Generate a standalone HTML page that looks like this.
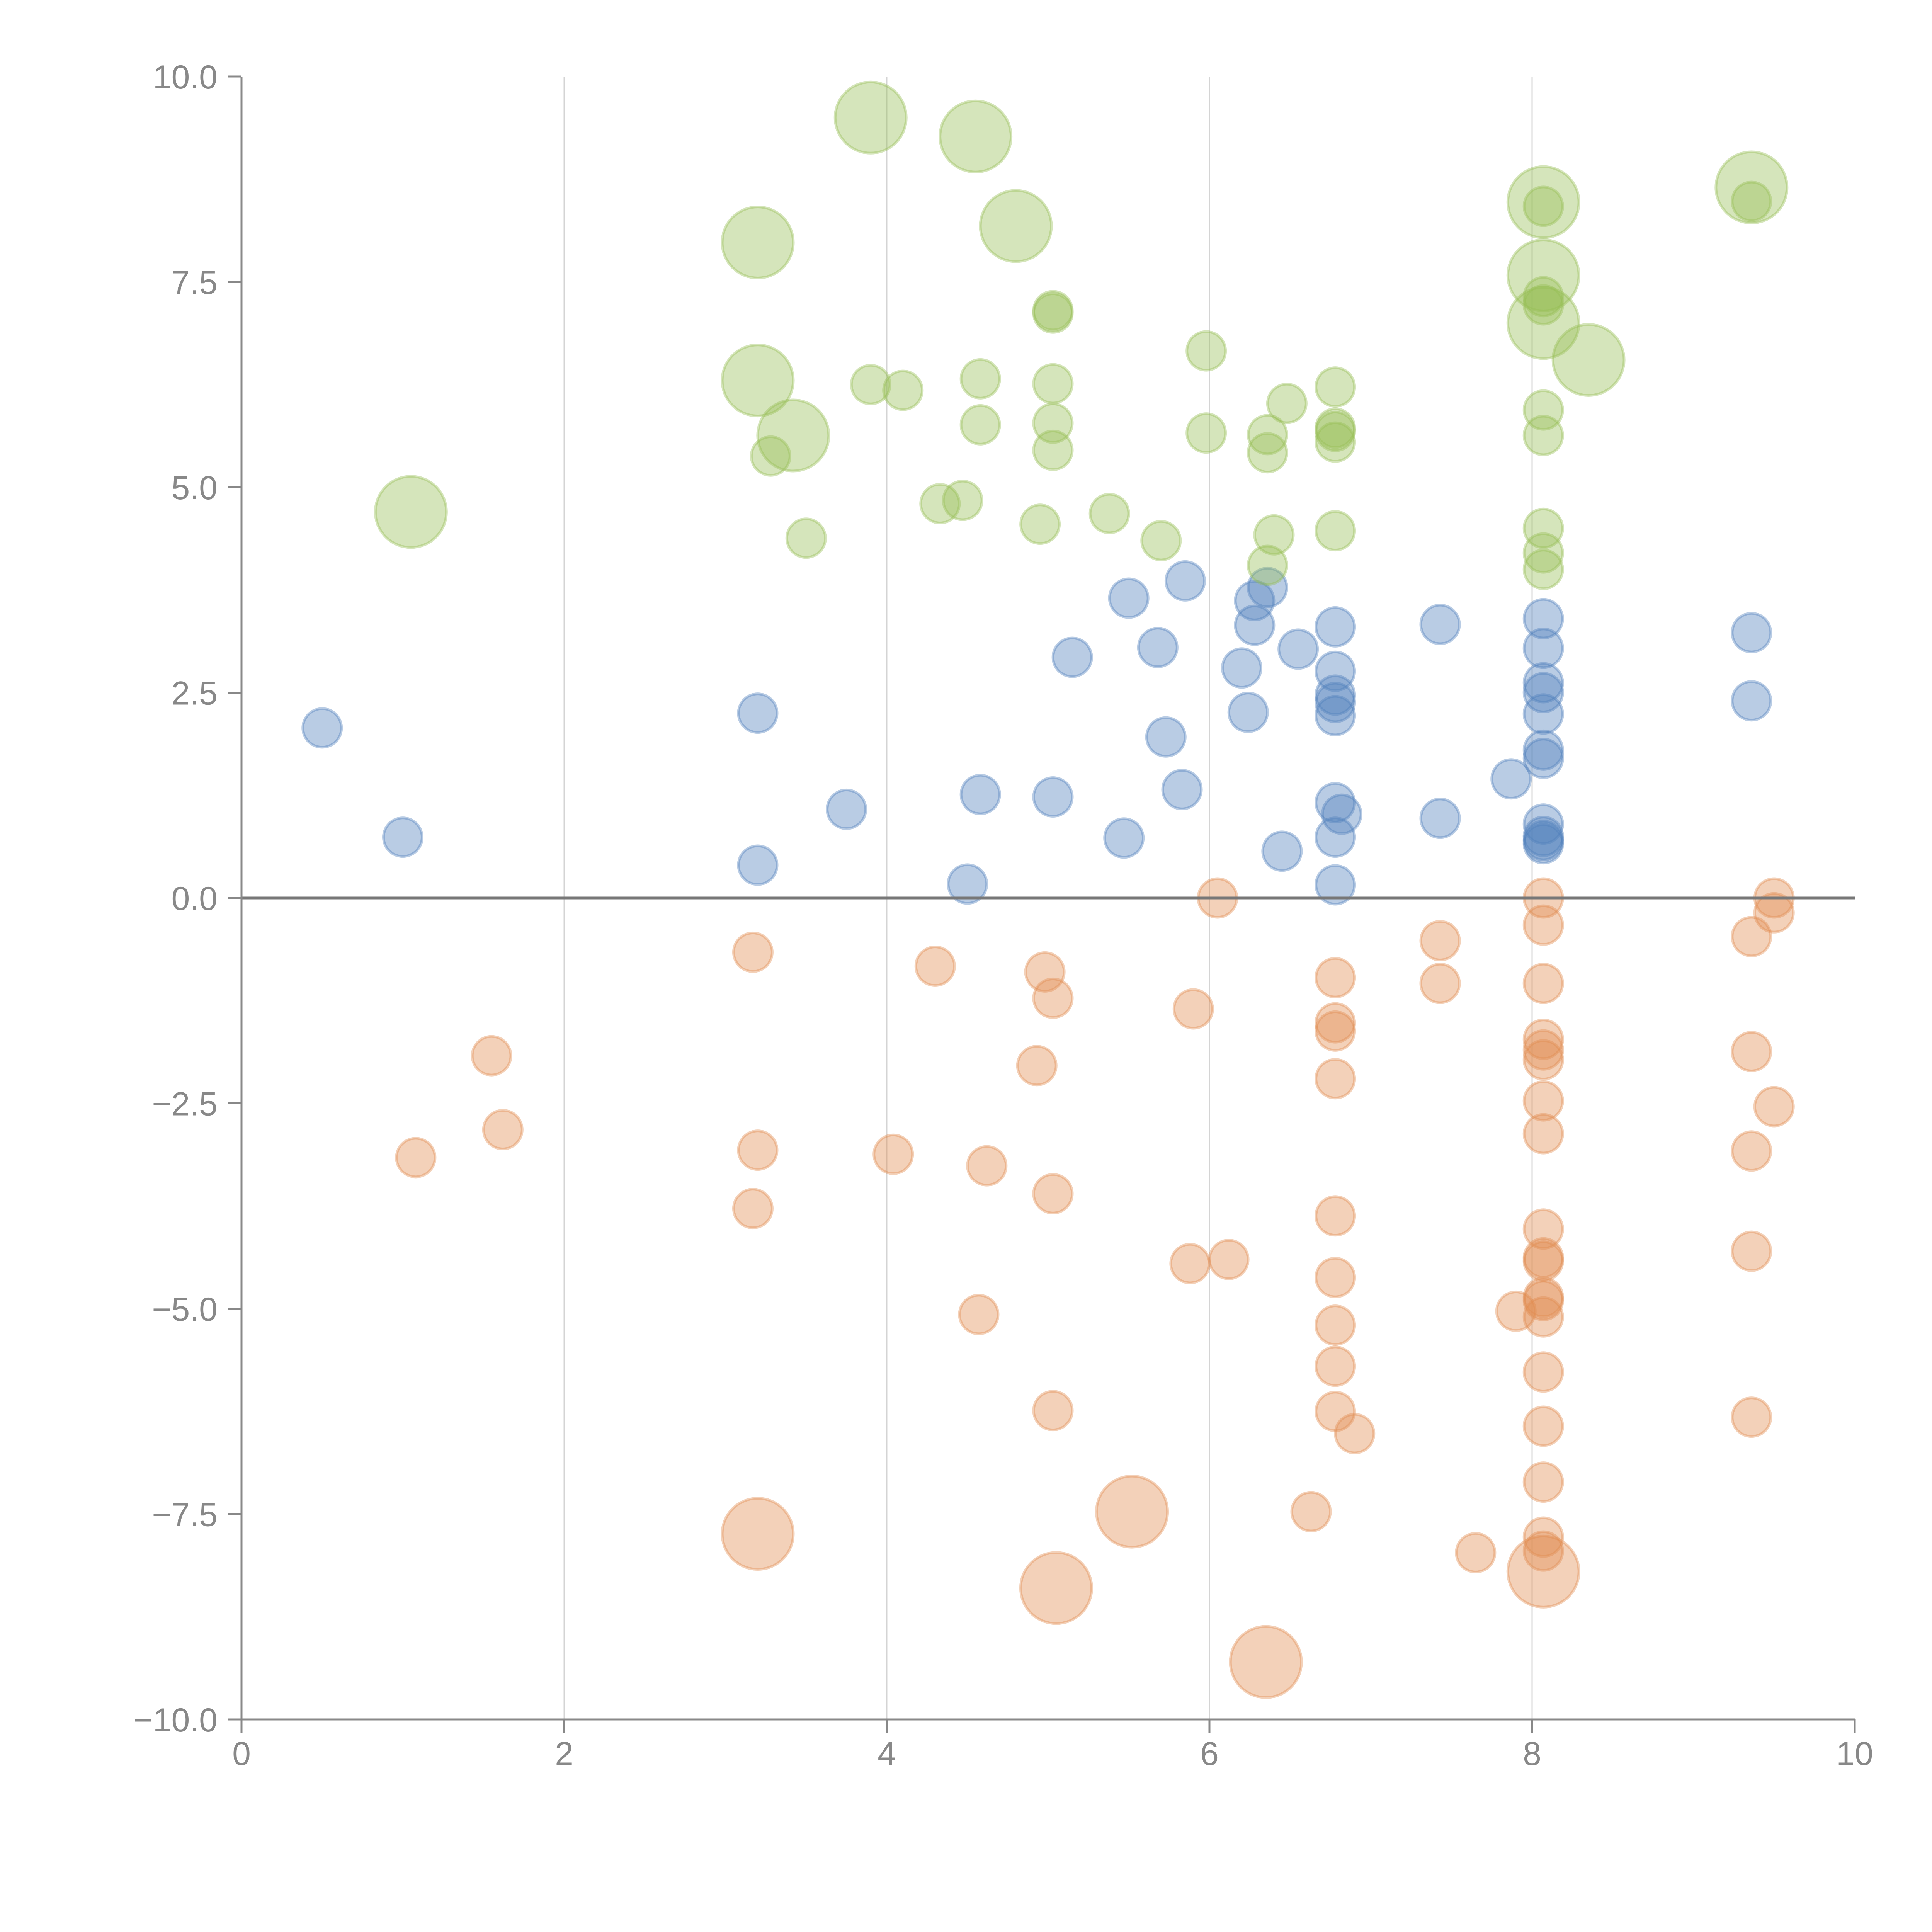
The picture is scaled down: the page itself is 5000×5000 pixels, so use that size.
<!DOCTYPE html>
<html><head><meta charset="utf-8"><style>html,body{margin:0;padding:0;background:#fff}svg{display:block}</style></head>
<body>
<svg id="chart" width="5000" height="5000" viewBox="0 0 5000 5000" xmlns="http://www.w3.org/2000/svg">
<g id="grid"></g>
<g id="marks"></g>
<g id="axes"></g>
</svg>
<script>
const xTicks = [0, 2, 4, 6, 8, 10];
const yTicks = [-10, -7.5, -5, -2.5, 0, 2.5, 5, 7.5, 10];
const blueX = [0.5,1.0,3.2,3.2,3.75,4.5,4.58,5.03,5.15,5.5,5.47,5.68,5.73,5.83,5.85,6.2,6.24,6.28,6.28,6.36,6.45,6.55,6.78,6.78,6.78,6.78,6.78,6.78,6.82,6.78,6.78,7.43,7.43,7.87,8.07,8.07,8.07,8.07,8.07,8.07,8.07,8.07,8.07,8.07,8.07,9.36,9.36];
const blueY = [2.07,0.74,2.25,0.4,1.08,0.17,1.26,1.23,2.93,3.65,0.73,3.05,1.96,1.32,3.86,2.8,2.26,3.32,3.62,3.78,0.57,3.03,3.3,2.76,2.47,2.38,2.22,1.16,1.02,0.74,0.16,3.33,0.97,1.45,3.4,3.04,2.62,2.5,2.24,1.8,1.7,0.9,0.75,0.7,0.66,3.23,2.4];
const orangeX = [6.05,8.07,9.5,9.5,8.07,7.43,9.36,3.17,4.3,4.98,5.03,5.9,6.78,7.43,8.07,6.78,6.78,8.07,8.07,8.07,9.36,1.55,4.93,6.78,8.07,9.5,1.62,8.07,1.08,3.2,4.04,4.62,9.36,5.03,3.17,6.78,8.07,5.88,6.12,8.07,8.07,9.36,6.78,8.07,8.07,4.57,7.9,8.07,6.78,6.78,8.07,5.03,6.78,9.36,8.07,6.9,8.07,6.63,7.65,8.07,8.07];
const orangeY = [0,0,0,-0.18,-0.33,-0.52,-0.47,-0.66,-0.83,-0.9,-1.22,-1.35,-0.97,-1.04,-1.04,-1.52,-1.62,-1.72,-1.85,-1.97,-1.87,-1.92,-2.04,-2.2,-2.47,-2.54,-2.82,-2.87,-3.16,-3.07,-3.12,-3.26,-3.08,-3.6,-3.78,-3.87,-4.03,-4.45,-4.4,-4.38,-4.42,-4.3,-4.62,-4.86,-4.9,-5.07,-5.03,-5.1,-5.2,-5.7,-5.77,-6.24,-6.25,-6.32,-6.43,-6.52,-7.11,-7.47,-7.97,-7.78,-7.95];
const orangeBigX = [3.2,5.52,5.05,6.35,8.07];
const orangeBigY = [-7.74,-7.47,-8.4,-9.3,-8.2];
const greenX = [5.03,5.03,5.98,3.9,4.1,4.58,5.03,6.78,6.48,4.58,5.03,5.03,5.98,6.36,6.36,6.78,6.78,6.78,3.28,3.5,4.33,4.47,4.95,5.38,5.7,6.4,6.36,6.78,8.07,9.36,8.07,8.07,8.07,8.07,8.07,8.07,8.07];
const greenY = [7.15,7.12,6.66,6.25,6.18,6.32,6.26,6.22,6.02,5.76,5.78,5.45,5.66,5.64,5.42,5.72,5.68,5.55,5.38,4.38,4.8,4.84,4.55,4.68,4.35,4.42,4.05,4.47,8.42,8.48,7.32,7.22,5.94,5.63,4.5,4.2,4.0];
const greenBigX = [1.05,3.2,3.2,3.42,3.9,4.55,4.8,8.07,8.07,8.07,8.35,9.36];
const greenBigY = [4.7,7.98,6.3,5.63,9.5,9.27,8.18,8.47,7.58,7.0,6.55,8.65];

const X0=625, X1=4800, Y0=4450, Y1=198;
const sx = v => X0 + (v-0)/(10-0)*(X1-X0);
const sy = v => Y0 - (v+10)/20*(Y0-Y1);
const NS='http://www.w3.org/2000/svg';
function mk(tag, attrs, parent){const e=document.createElementNS(NS,tag);for(const k in attrs)e.setAttribute(k,attrs[k]);parent.appendChild(e);return e;}
const grid=document.getElementById('grid'), marks=document.getElementById('marks'), axes=document.getElementById('axes');

xTicks.forEach(t=>{ if(t>0&&t<10){
  const l=mk('line',{x1:sx(t),x2:sx(t),y1:Y1,y2:Y0,stroke:'#d4d4d4','stroke-width':3},grid);
  
  
}});

function drawSeries(xs, ys, r, color, name){
  xs.forEach((xv,i)=>{
    const c=mk('circle',{cx:sx(xv),cy:sy(ys[i]),r:r,fill:color,'fill-opacity':0.4,stroke:color,'stroke-opacity':0.4,'stroke-width':7},marks);
    
    
  });
}
drawSeries(blueX, blueY, 50, 'rgb(80,127,187)', 'blue-point');
drawSeries(orangeX, orangeY, 50, 'rgb(225,140,80)', 'orange-point');
drawSeries(orangeBigX, orangeBigY, 92, 'rgb(225,140,80)', 'orange-large-point');
drawSeries(greenX, greenY, 50, 'rgb(150,190,85)', 'green-point');
drawSeries(greenBigX, greenBigY, 92, 'rgb(150,190,85)', 'green-large-point');

// zero line
const z=mk('line',{x1:X0,x2:X1,y1:sy(0),y2:sy(0),stroke:'#777','stroke-width':7},axes);


// axes
const ya=mk('line',{x1:X0,x2:X0,y1:Y1,y2:Y0,stroke:'#888','stroke-width':5},axes);


const xa=mk('line',{x1:X0,x2:X1,y1:Y0,y2:Y0,stroke:'#888','stroke-width':5},axes);


const font='"Liberation Sans", Arial, sans-serif';
yTicks.forEach(t=>{
  const tk=mk('line',{x1:X0-35,x2:X0,y1:sy(t),y2:sy(t),stroke:'#888','stroke-width':5},axes);
  
  
  const tx=mk('text',{x:X0-62,y:sy(t)+31,'text-anchor':'end','font-family':font,'font-size':86,fill:'#888'},axes);
  tx.textContent=(t<0?'\u2212':'')+Math.abs(t).toFixed(1);
  
  
});
xTicks.forEach(t=>{
  const tk=mk('line',{x1:sx(t),x2:sx(t),y1:Y0,y2:Y0+35,stroke:'#888','stroke-width':5},axes);
  
  
  const tx=mk('text',{x:sx(t),y:4568,'text-anchor':'middle','font-family':font,'font-size':86,fill:'#888'},axes);
  tx.textContent=String(t);
  
  
});
</script>
</body></html>
